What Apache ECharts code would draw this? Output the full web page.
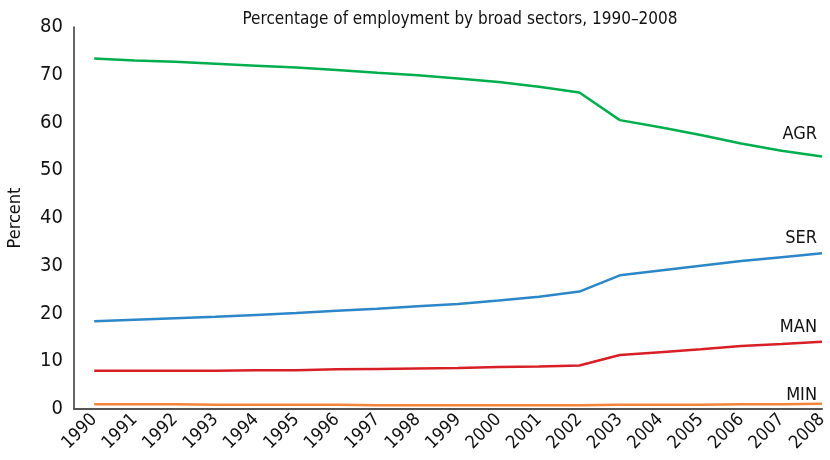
<!DOCTYPE html>
<html>
<head>
<meta charset="utf-8">
<script src="https://cdn.jsdelivr.net/npm/echarts@6/dist/echarts.min.js"></script>
<style>
  html, body { margin: 0; padding: 0; background: #fff; }
  #chart { width: 830px; height: 460px; }
</style>
</head>
<body>
<div id="chart"></div>
<script>
const years = [1990, 1991, 1992, 1993, 1994, 1995, 1996, 1997, 1998, 1999,
  2000, 2001, 2002, 2003, 2004, 2005, 2006, 2007, 2008]
const agr = [73.4, 73.0, 72.7, 72.3, 71.9, 71.5, 71.0, 70.4, 69.9, 69.2,
  68.5, 67.5, 66.3, 60.5, 59.0, 57.4, 55.6, 54.1, 52.9]
const ser = [18.4, 18.7, 19.0, 19.3, 19.7, 20.1, 20.6, 21.0, 21.5, 22.0,
  22.7, 23.5, 24.6, 28.0, 29.0, 30.0, 31.0, 31.8, 32.6]
const man = [8.0, 8.0, 8.0, 8.0, 8.1, 8.1, 8.3, 8.4, 8.5, 8.6,
  8.8, 8.9, 9.1, 11.3, 11.9, 12.5, 13.2, 13.6, 14.1]
const min = [1.0, 1.0, 1.0, 0.9, 0.9, 0.9, 0.9, 0.8, 0.8, 0.8,
  0.8, 0.8, 0.8, 0.9, 0.9, 0.9, 1.0, 1.0, 1.1]
const yTicks = [0, 10, 20, 30, 40, 50, 60, 70, 80]

const FONT = '"DejaVu Sans Condensed", "Liberation Sans Narrow", sans-serif'

function lineSeries(name, values, color, lift) {
  return {
    name,
    type: 'line',
    data: values.map((v, i) => [years[i], v]),
    showSymbol: false,
    lineStyle: { color, width: 2.5 },
    itemStyle: { color },
    endLabel: {
      show: true,
      formatter: name,
      align: 'right',
      verticalAlign: 'bottom',
      offset: [-13, -lift],
      color: '#111',
      fontFamily: FONT,
      fontSize: 18,
    },
  }
}

const chart = echarts.init(document.getElementById('chart'))
chart.setOption({
  animation: false,
  title: {
    text: 'Percentage of employment by broad sectors, 1990\u20132008',
    left: 455,
    textAlign: 'center',
    top: 6,
    textStyle: { fontFamily: FONT, fontSize: 17, fontWeight: 'normal', color: '#111' },
  },
  grid: { left: 74, right: 8, top: 27, bottom: 51, containLabel: false, outerBoundsMode: 'none' },
  xAxis: {
    type: 'value',
    min: 1989.5,
    max: 2008,
    interval: 0.5,
    splitLine: { show: false },
    axisTick: { show: false },
    axisLine: { lineStyle: { color: '#555', width: 2 } },
    axisLabel: {
      rotate: 45,
      margin: 8,
      color: '#111',
      fontFamily: FONT,
      fontSize: 18,
      showMinLabel: false,
      formatter: (v) => (years.includes(v) ? String(v) : ''),
    },
  },
  yAxis: {
    type: 'value',
    min: yTicks[0],
    max: yTicks[yTicks.length - 1],
    interval: 10,
    name: 'Percent',
    nameLocation: 'middle',
    nameGap: 50,
    nameTextStyle: { fontFamily: FONT, fontSize: 18, color: '#111' },
    splitLine: { show: false },
    axisTick: { show: false },
    axisLine: { show: true, lineStyle: { color: '#333', width: 1.5 } },
    axisLabel: { margin: 11, color: '#111', fontFamily: FONT, fontSize: 20 },
  },
  series: [
    lineSeries('AGR', agr, '#00ae4d', 13),
    lineSeries('SER', ser, '#2b87c8', 6),
    lineSeries('MAN', man, '#d81f26', 5),
    lineSeries('MIN', min, '#f4843a', -1),
  ],
})
</script>
</body>
</html>
